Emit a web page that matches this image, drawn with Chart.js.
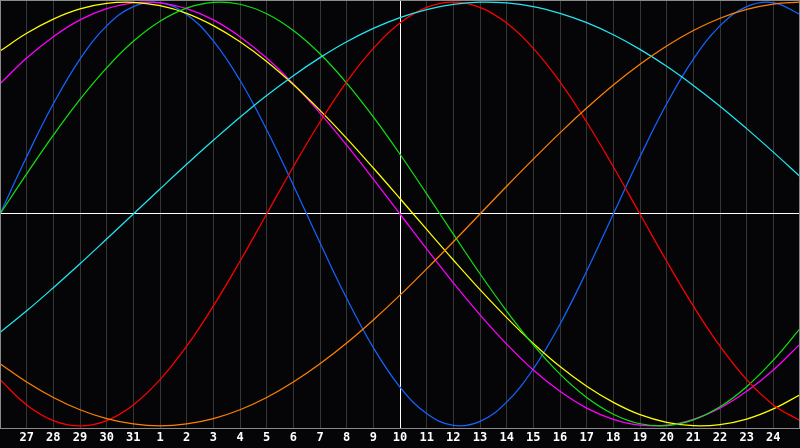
<!DOCTYPE html>
<html>
<head>
<meta charset="utf-8">
<script src="https://cdn.jsdelivr.net/npm/chart.js@4"></script>
<style>
  html, body { margin: 0; padding: 0; background: #050508; }
  canvas { display: block; }
</style>
</head>
<body>
<canvas id="bio" width="800" height="448"></canvas>
<script>
// days shown along the bottom (first and last are edges, not labelled)
var days = [26, 27, 28, 29, 30, 31, 1, 2, 3, 4, 5, 6, 7, 8, 9, 10, 11, 12, 13, 14, 15, 16, 17, 18, 19, 20, 21, 22, 23, 24, 25];

// curve values, one per day (-1 .. 1)
var red = [-0.782, -0.901, -0.975, -1.000, -0.975, -0.901, -0.782, -0.624, -0.434, -0.223, 0.000, 0.223, 0.434, 0.624, 0.782, 0.901, 0.975, 1.000, 0.975, 0.901, 0.782, 0.624, 0.434, 0.223, 0.000, -0.223, -0.434, -0.624, -0.782, -0.901, -0.975];
var blue = [0.000, 0.270, 0.520, 0.731, 0.888, 0.979, 0.998, 0.942, 0.817, 0.631, 0.398, 0.136, -0.136, -0.398, -0.631, -0.817, -0.942, -0.998, -0.979, -0.888, -0.731, -0.520, -0.270, 0.000, 0.270, 0.520, 0.731, 0.888, 0.979, 0.998, 0.942];
var green = [0.000, 0.189, 0.372, 0.541, 0.690, 0.815, 0.910, 0.972, 0.999, 0.990, 0.945, 0.866, 0.756, 0.618, 0.458, 0.282, 0.095, -0.095, -0.282, -0.458, -0.618, -0.756, -0.866, -0.945, -0.990, -0.999, -0.972, -0.910, -0.815, -0.690, -0.541];
var magenta = [0.614, 0.736, 0.837, 0.916, 0.969, 0.997, 0.997, 0.969, 0.916, 0.837, 0.736, 0.614, 0.476, 0.325, 0.165, 0.000, -0.165, -0.325, -0.476, -0.614, -0.736, -0.837, -0.916, -0.969, -0.997, -0.997, -0.969, -0.916, -0.837, -0.736, -0.614];
var yellow = [0.769, 0.853, 0.920, 0.968, 0.994, 0.999, 0.983, 0.947, 0.889, 0.813, 0.720, 0.611, 0.489, 0.357, 0.217, 0.073, -0.073, -0.217, -0.357, -0.489, -0.611, -0.720, -0.813, -0.889, -0.947, -0.983, -0.999, -0.994, -0.968, -0.920, -0.853];
var orange = [-0.707, -0.793, -0.866, -0.924, -0.966, -0.991, -1.000, -0.991, -0.966, -0.924, -0.866, -0.793, -0.707, -0.609, -0.500, -0.383, -0.259, -0.131, 0.000, 0.131, 0.259, 0.383, 0.500, 0.609, 0.707, 0.793, 0.866, 0.924, 0.966, 0.991, 1.000];
var cyan = [-0.559, -0.457, -0.348, -0.235, -0.118, 0.000, 0.118, 0.235, 0.348, 0.457, 0.559, 0.653, 0.738, 0.813, 0.876, 0.927, 0.965, 0.989, 1.000, 0.996, 0.979, 0.947, 0.903, 0.846, 0.777, 0.697, 0.607, 0.509, 0.403, 0.292, 0.177];

var todayIndex = 15;

function line(values, color) {
    return {
        data: values,
        borderColor: color,
        borderWidth: 1.25,
        pointRadius: 0,
        tension: 0.4,
        fill: false
    };
}

// black background and grey frame round the plot
var framePlugin = {
    id: 'frame',
    beforeDraw: function (chart) {
        var c = chart.ctx;
        c.save();
        c.fillStyle = '#050508';
        c.fillRect(0, 0, chart.width, chart.height);
        c.restore();
    },
    afterDraw: function (chart) {
        var a = chart.chartArea;
        var c = chart.ctx;
        c.save();
        c.strokeStyle = '#8a8a8a';
        c.lineWidth = 1;
        c.strokeRect(a.left + 0.5, a.top + 0.5, a.right - a.left - 1, a.bottom - a.top);
        c.restore();
    }
};

var ctx = document.getElementById('bio').getContext('2d');
var bioChart = new Chart(ctx, {
    type: 'line',
    data: {
        labels: days,
        datasets: [
            line(orange, '#ff8000'),
            line(cyan, '#20e8f0'),
            line(red, '#ff0000'),
            line(green, '#10e010'),
            line(yellow, '#ffff00'),
            line(magenta, '#ff00ff'),
            line(blue, '#1464ff')
        ]
    },
    options: {
        responsive: false,
        animation: false,
        devicePixelRatio: 1,
        layout: { padding: 0 },
        plugins: {
            legend: { display: false },
            tooltip: { enabled: false }
        },
        scales: {
            x: {
                offset: false,
                grid: {
                    drawTicks: false,
                    color: function (c) {
                        return c.index === todayIndex ? '#ffffff' : '#363636';
                    },
                    lineWidth: 1
                },
                border: { display: false },
                ticks: {
                    autoSkip: false,
                    maxRotation: 0,
                    padding: 0,
                    color: '#ffffff',
                    font: { family: 'DejaVu Sans Mono', weight: 'bold', size: 12, lineHeight: 1.667 },
                    callback: function (v, i) {
                        return (i === 0 || i === days.length - 1) ? '' : String(days[i]);
                    }
                }
            },
            y: {
                min: -1.01,
                max: 1.01,
                ticks: { display: false, stepSize: 1.01 },
                border: { display: false },
                grid: {
                    drawTicks: false,
                    color: function (c) {
                        return c.tick.value === 0 ? '#ffffff' : 'rgba(0,0,0,0)';
                    },
                    lineWidth: 1
                }
            }
        }
    },
    plugins: [framePlugin]
});
</script>
</body>
</html>
